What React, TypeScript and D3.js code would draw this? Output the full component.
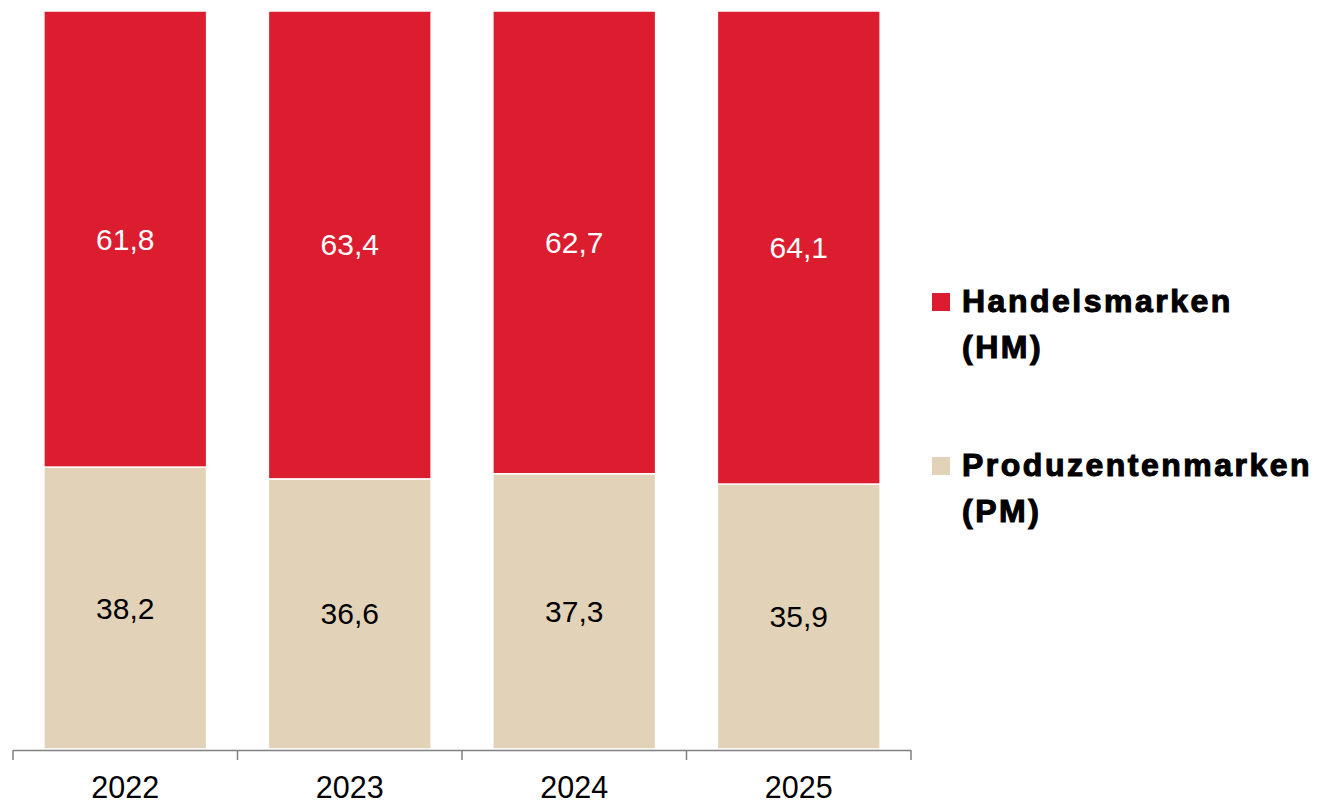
import React from "react";
import * as d3 from "d3";

const years = ["2022", "2023", "2024", "2025"];
const handelsmarken = [61.8, 63.4, 62.7, 64.1];
const produzentenmarken = [38.2, 36.6, 37.3, 35.9];
const seriesNames = ["Handelsmarken", "Produzentenmarken"];
const legendLines = [["Handelsmarken", "(HM)"], ["Produzentenmarken", "(PM)"]];
const colors = ["#DC1C2F", "#E2D3B8"];

const W = 1317;
const H = 804;

export default function App() {
  const x = d3.scaleBand<string>().domain(years).range([13, 911]).paddingInner(0.275).paddingOuter(0.1375);
  const y = d3.scaleLinear().domain([0, 100]).range([749, 11]);
  const fmt = (v: number) => d3.format(".1f")(v).replace(".", ",");

  const rows = years.map((yr, i) => ({ year: yr, PM: produzentenmarken[i], HM: handelsmarken[i] }));
  const stack = d3.stack<any>().keys(["PM", "HM"])(rows);
  const keyColor: Record<string, string> = { PM: colors[1], HM: colors[0] };
  const keyText: Record<string, string> = { PM: "#000", HM: "#fff" };

  const step = x.step();
  const tickXs = [...years.map((yr) => (x(yr) as number) - (step - x.bandwidth()) / 2), 911];

  const legendY = [312, 476];

  return (
    <svg width={W} height={H} style={{ position: "absolute", left: 0, top: 0, fontFamily: "Liberation Sans, Arial, sans-serif" }}>
      <rect width={W} height={H} fill="#fff" />
      {stack.map((s) =>
        s.map((d, i) => {
          const x0 = x(years[i]) as number;
          const y0 = y(d[1]);
          const y1 = y(d[0]);
          return (
            <g key={s.key + i}>
              <rect x={x0} y={y0} width={x.bandwidth()} height={y1 - y0} fill={keyColor[s.key]} stroke="#fff" strokeWidth={1.5} />
              <text x={x0 + x.bandwidth() / 2} y={(y0 + y1) / 2} dy="0.35em" textAnchor="middle" fontSize={30} fill={keyText[s.key]}>
                {fmt(d[1] - d[0])}
              </text>
            </g>
          );
        })
      )}
      <line x1={13} x2={911} y1={750.5} y2={750.5} stroke="#808080" strokeWidth={1.5} />
      {tickXs.map((tx, i) => (
        <line key={"t" + i} x1={tx} x2={tx} y1={750} y2={760} stroke="#808080" strokeWidth={1.5} />
      ))}
      {years.map((yr) => (
        <text key={yr} x={(x(yr) as number) + x.bandwidth() / 2} y={798} textAnchor="middle" fontSize={30.5} fill="#000">
          {yr}
        </text>
      ))}
      {seriesNames.map((name, i) => (
        <g key={name}>
          <rect x={932} y={legendY[i] - 19} width={18} height={18} fill={colors[i]} />
          {legendLines[i].map((ln, j) => (
            <text
              key={j}
              x={962}
              y={legendY[i] + j * 46}
              fontSize={32}
              fontWeight="bold"
              letterSpacing={2.5}
              stroke="#000"
              strokeWidth={1.1}
              fill="#000"
            >
              {ln}
            </text>
          ))}
        </g>
      ))}
    </svg>
  );
}
